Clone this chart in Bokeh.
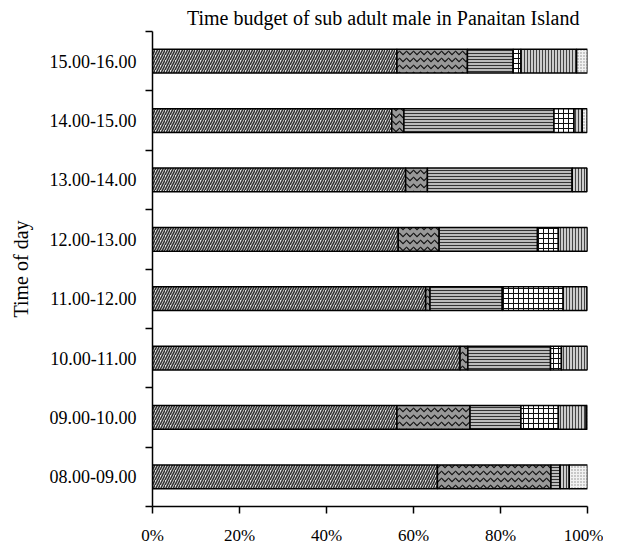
import numpy as np
from bokeh.plotting import figure
from bokeh.models import ColumnDataSource, Range1d, FixedTicker, PrintfTickFormatter
from bokeh.embed import file_html
from bokeh.resources import INLINE

# categories, bottom to top
times = ["08.00-09.00", "09.00-10.00", "10.00-11.00", "11.00-12.00",
         "12.00-13.00", "13.00-14.00", "14.00-15.00", "15.00-16.00"]

# percentage of time per activity (activity names not shown in the source chart)
activity_1 = [65.5, 56.2, 70.7, 62.8, 56.5, 58.2, 55.0, 56.2]
activity_2 = [26.1, 16.8, 1.8, 1.0, 9.4, 5.0, 2.8, 16.2]
activity_3 = [2.1, 11.7, 19.0, 16.6, 22.6, 33.3, 34.5, 10.5]
activity_4 = [0.0, 8.6, 2.5, 14.0, 4.8, 0.0, 4.6, 1.8]
activity_5 = [2.1, 6.4, 6.0, 5.5, 6.7, 3.4, 1.9, 12.8]
activity_6 = [4.2, 0.4, 0.0, 0.0, 0.0, 0.0, 1.1, 2.5]

x_ticks = [0, 20, 40, 60, 80, 100]
title_text = "Time budget of sub adult male in Panaitan Island"
y_label = "Time of day"

series = [activity_1, activity_2, activity_3, activity_4, activity_5, activity_6]
styles = [
    dict(fill_color="#e8e8e8", hatch_pattern="/", hatch_color="#333", hatch_scale=5, hatch_weight=1.6),
    dict(fill_color="#999999", hatch_pattern="v", hatch_color="#111", hatch_scale=7, hatch_weight=1.2),
    dict(fill_color="#bbbbbb", hatch_pattern="-", hatch_color="#333", hatch_scale=3, hatch_weight=1),
    dict(fill_color="white", hatch_pattern="+", hatch_color="#111", hatch_scale=5, hatch_weight=1),
    dict(fill_color="#cccccc", hatch_pattern="|", hatch_color="#444", hatch_scale=3, hatch_weight=1),
    dict(fill_color="#f2f2f2", hatch_pattern=".", hatch_color="#888", hatch_scale=3, hatch_weight=1),
]

FONT = "Liberation Serif"

p = figure(width=603, height=549, output_backend="svg", toolbar_location=None,
           x_range=Range1d(0, 100), y_range=Range1d(0, len(times)),
           min_border_left=152, min_border_right=16, min_border_bottom=43, min_border_top=31)

p.title.text = title_text
p.title.text_font = FONT
p.title.text_font_size = "20px"
p.title.text_font_style = "normal"
p.title.text_color = "black"
p.title.align = "right"
p.title.offset = 8
p.title.standoff = 5

p.outline_line_color = None
p.xgrid.visible = False
p.ygrid.visible = False
p.background_fill_color = "white"
p.border_fill_color = "white"

ypos = np.arange(len(times)) + 0.5
left = np.zeros(len(times))
for vals, st in zip(series, styles):
    v = np.array(vals, dtype=float)
    src = ColumnDataSource(dict(y=ypos, left=left.copy(), right=left + v))
    p.hbar(y="y", left="left", right="right", height=0.4, source=src,
           line_color="black", line_width=1.5, **st)
    left = left + v

# x axis
xa = p.xaxis[0]
xa.ticker = FixedTicker(ticks=x_ticks)
xa.formatter = PrintfTickFormatter(format="%d%%")
xa.major_tick_out = 7
xa.major_tick_in = 0
xa.minor_tick_out = 0
xa.minor_tick_in = 0
xa.axis_line_width = 1.5
xa.major_tick_line_width = 1.5
xa.major_label_text_font = FONT
xa.major_label_text_font_size = "17px"
xa.major_label_standoff = 12
xa.major_label_text_color = "black"

# y axis
ya = p.yaxis[0]
ya.ticker = FixedTicker(ticks=list(ypos), minor_ticks=list(range(len(times) + 1)))
ya.major_label_overrides = {float(y): t for y, t in zip(ypos, times)}
ya.major_tick_out = 0
ya.major_tick_in = 0
ya.minor_tick_out = 7
ya.minor_tick_in = 0
ya.minor_tick_line_width = 1.5
ya.minor_tick_line_color = "black"
ya.axis_line_width = 1.5
ya.major_label_text_font = FONT
ya.major_label_text_font_size = "18px"
ya.major_label_standoff = 9
ya.major_label_text_color = "black"
ya.axis_label = y_label
ya.axis_label_text_font = FONT
ya.axis_label_text_font_size = "20px"
ya.axis_label_text_font_style = "normal"
ya.axis_label_text_color = "black"
ya.axis_label_standoff = 15

open("out.html", "w").write(file_html(p, INLINE))
